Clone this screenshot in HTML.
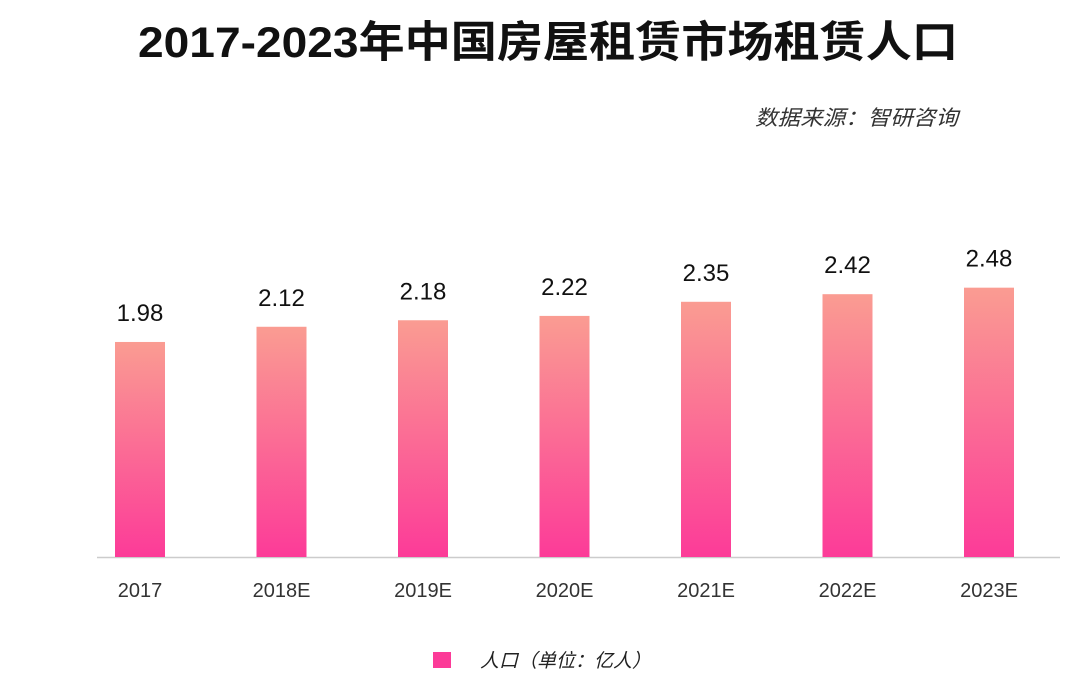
<!DOCTYPE html>
<html><head><meta charset="utf-8"><style>
body{margin:0;background:#fff;width:1080px;height:684px;overflow:hidden;font-family:"Liberation Sans","Noto Sans CJK SC",sans-serif}
</style></head><body>
<svg width="1080" height="684" id="c">
<defs><linearGradient id="g" x1="0" y1="0" x2="0" y2="1"><stop offset="0" stop-color="#fa9c92"/><stop offset="1" stop-color="#fc3b98"/></linearGradient></defs>
<text x="138" y="57" textLength="820" lengthAdjust="spacingAndGlyphs" font-size="43" font-weight="bold" fill="#111">2017-2023年中国房屋租赁市场租赁人口</text>
<text x="755" y="125" textLength="203" lengthAdjust="spacingAndGlyphs" font-size="21" font-style="italic" fill="#333">数据来源：智研咨询</text>
<line x1="97" y1="557.5" x2="1060" y2="557.5" stroke="#ccc" stroke-width="1.5"/>
<rect x="433" y="652" width="18" height="16" fill="#fc3b98"/>
<text x="480" y="667" font-size="19" font-style="italic" fill="#222">人口（单位：亿人）</text>
</svg>
<script>
const categories=["2017","2018E","2019E","2020E","2021E","2022E","2023E"];
const values=[1.98,2.12,2.18,2.22,2.35,2.42,2.48];
const labels=["1.98","2.12","2.18","2.22","2.35","2.42","2.48"];
const svg=document.getElementById('c');const NS='http://www.w3.org/2000/svg';
const x=i=>140+i*141.5, y=v=>557-v*108.6;
categories.forEach((c,i)=>{
 const r=document.createElementNS(NS,'rect');
 r.setAttribute('x',x(i)-25);r.setAttribute('y',y(values[i]));r.setAttribute('width',50);r.setAttribute('height',557-y(values[i]));r.setAttribute('fill','url(#g)');
 
 
 svg.appendChild(r);
 const t=document.createElementNS(NS,'text');
 t.setAttribute('x',x(i));t.setAttribute('y',y(values[i])-21);t.setAttribute('text-anchor','middle');t.setAttribute('font-size','24');t.setAttribute('fill','#111');t.textContent=labels[i];
 
 
 svg.appendChild(t);
 const l=document.createElementNS(NS,'text');
 l.setAttribute('x',x(i));l.setAttribute('y',597);l.setAttribute('text-anchor','middle');l.setAttribute('font-size','20');l.setAttribute('fill','#333');l.textContent=c;
 
 
 svg.appendChild(l);
});
</script>
</body></html>
